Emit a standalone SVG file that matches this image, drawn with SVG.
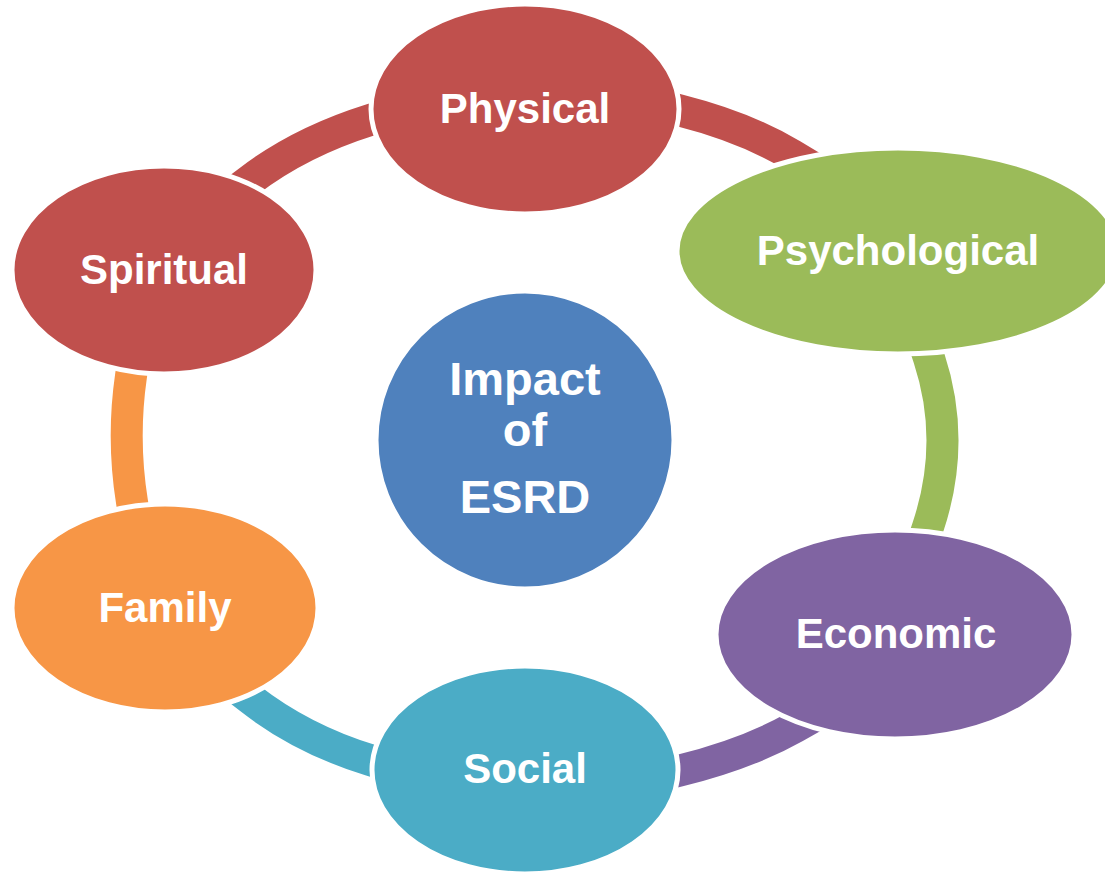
<svg xmlns="http://www.w3.org/2000/svg" width="1105" height="872" viewBox="0 0 1105 872">
<style>
.arc{fill:none;stroke-width:32;stroke-linecap:butt;stroke-linejoin:round}
.node{stroke:#FFFFFF;stroke-width:5}
.lbl{font-family:"Liberation Sans",Arial,sans-serif;font-weight:bold;font-size:42px;fill:#FFFFFF;text-anchor:middle}
.ctr{font-size:47px}
</style>
<rect width="1105" height="872" fill="#FFFFFF"/>
<g id="connectors">
<path class="arc" stroke="#C0504D" d="M225,199 L249,181 Q300,142 370,120 L399,111"/>
<path class="arc" stroke="#C0504D" d="M651,103 L680,110.5 Q745,127 792,155 L826,175.5"/>
<path class="arc" stroke="#9BBB59" stroke-width="34" d="M919.6,329.5 L929,358 Q956.5,441.5 928,527 L918.5,555.5"/>
<path class="arc" stroke="#8064A2" d="M651,777.7 L680,770.5 Q747,754 795,727 L830,707.4"/>
<path class="arc" stroke="#4BACC6" d="M398.7,768.9 L370,760 Q302,739 250,698.5 L226.3,680.1"/>
<path class="arc" stroke="#F79646" d="M136.7,531.6 L132,502 Q121.9,439 131,376 L135.3,346.3"/>
</g>
<g id="physical">
<ellipse class="node" cx="525" cy="109" rx="154" ry="105" fill="#C0504D"/>
<text class="lbl" x="525" y="123">Physical</text>
</g>
<g id="psychological">
<ellipse class="node" cx="898" cy="251" rx="221" ry="103" fill="#9BBB59"/>
<text class="lbl" x="898" y="265">Psychological</text>
</g>
<g id="economic">
<ellipse class="node" cx="895" cy="634.5" rx="179" ry="104.5" fill="#8064A2"/>
<text class="lbl" x="896" y="648">Economic</text>
</g>
<g id="social">
<ellipse class="node" cx="525" cy="770" rx="153" ry="104" fill="#4BACC6"/>
<text class="lbl" x="525" y="783">Social</text>
</g>
<g id="family">
<ellipse class="node" cx="165" cy="608" rx="153" ry="104" fill="#F79646"/>
<text class="lbl" x="165" y="622">Family</text>
</g>
<g id="spiritual">
<ellipse class="node" cx="164" cy="270" rx="152" ry="104" fill="#C0504D"/>
<text class="lbl" x="164" y="284">Spiritual</text>
</g>
<g id="center">
<circle class="node" cx="525" cy="440" r="149" fill="#4F81BD"/>
<text class="lbl ctr" x="525" y="395">Impact</text>
<text class="lbl ctr" x="525" y="446">of</text>
<text class="lbl ctr" x="525" y="513">ESRD</text>
</g>
</svg>
